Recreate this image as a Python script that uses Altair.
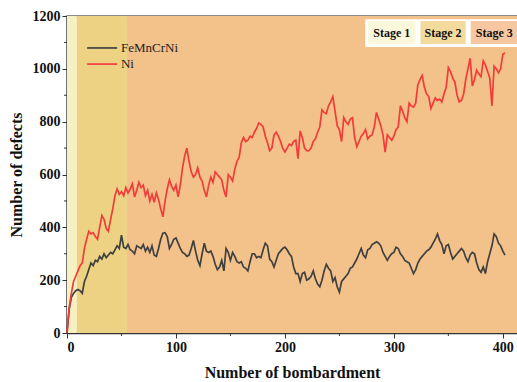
import altair as alt
import pandas as pd

step = 2
ni = [0, 95, 150, 195, 215, 235, 255, 265, 320, 355, 385, 375, 380, 365, 355, 400, 445, 430, 395, 385,
      430, 470, 520, 545, 525, 535, 520, 550, 530, 545, 565, 515, 540, 570, 550, 560, 520, 540, 500, 525,
      495, 530, 505, 470, 440, 500, 545, 580, 555, 540, 560, 515, 560, 625, 670, 700, 650, 610, 590, 600,
      625, 590, 575, 540, 515, 560, 590, 570, 610, 600, 590, 580, 540, 515, 600, 590, 575, 620, 650, 665,
      720, 740, 725, 730, 745, 740, 760, 775, 795, 790, 780, 745, 720, 690, 700, 750, 760, 745, 725, 700,
      685, 700, 715, 710, 725, 730, 660, 765, 740, 700, 690, 690, 700, 725, 735, 760, 780, 845, 835, 830,
      860, 875, 895, 840, 785, 770, 725, 815, 800, 790, 810, 815, 740, 705, 725, 745, 755, 770, 735, 745,
      750, 780, 835, 810, 785, 750, 685, 750, 740, 730, 745, 770, 780, 860, 840, 815, 800, 870, 860, 855,
      870, 940, 960, 975, 930, 905, 895, 850, 870, 890, 880, 885, 875, 905, 930, 1005, 990, 965, 950, 900,
      875, 880, 905, 960, 1000, 1040, 935, 960, 995, 980, 970, 1030, 1015, 990, 965, 860, 1010, 1000, 985, 1000,
      1055, 1060]
hea = [0, 90, 135, 150, 160, 165, 160, 150, 195, 215, 240, 265, 255, 275, 270, 290, 280, 300, 285, 295,
       305, 300, 315, 330, 320, 370, 325, 320, 335, 315, 310, 300, 330, 325, 320, 335, 310, 325, 305, 330,
       295, 290, 320, 355, 378, 380, 365, 320, 335, 355, 360, 340, 320, 305, 300, 290, 295, 320, 350, 310,
       275, 255, 300, 340, 310, 305, 310, 290, 260, 240, 250, 275, 235, 320, 305, 275, 305, 290, 270, 265,
       270, 250, 245, 235, 270, 300, 300, 285, 290, 285, 315, 340, 330, 280, 270, 250, 275, 300, 310, 320,
       325, 315, 300, 290, 250, 225, 225, 195, 225, 230, 200, 205, 215, 235, 205, 185, 175, 200, 235, 260,
       245, 235, 195, 210, 175, 155, 195, 205, 215, 225, 245, 250, 265, 280, 300, 320, 295, 285, 315, 320,
       335, 340, 345, 340, 330, 305, 290, 275, 290, 300, 305, 325, 320, 300, 290, 275, 270, 265, 245, 225,
       240, 265, 280, 290, 300, 310, 315, 325, 340, 355, 375, 350, 335, 300, 330, 335, 305, 280, 290, 300,
       310, 320, 310, 285, 270, 295, 305, 300, 265, 240, 230, 250, 225, 270, 300, 330, 375, 365, 340, 330,
       310, 295]

series_names = ["FeMnCrNi", "Ni"]
series_colors = ["#404040", "#F23B3B"]

stage_names = ["Stage 1", "Stage 2", "Stage 3"]
stage_start = [0, 9, 55]
stage_end = [9, 55, 413]
stage_colors = ["#F7F1C1", "#EDD283", "#F3C18A"]
box_colors = ["#FAF7DA", "#F3DB9E", "#F6C7A0"]
box_x1 = [276.5, 324.4, 370.5]
box_x2 = [319.8, 365.9, 413.8]

# legend key placement (data units)
leg_x1, leg_x2, leg_tx = 18.5, 46.0, 49.5
leg_y = [1079, 1018]

FONT = "Liberation Serif"

rows = []
for i, v in enumerate(hea):
    rows.append({"x": i * step, "y": v, "s": "FeMnCrNi"})
for i, v in enumerate(ni):
    rows.append({"x": i * step, "y": v, "s": "Ni"})
df = pd.DataFrame(rows)

stages = pd.DataFrame({"name": stage_names, "x1": stage_start, "x2": stage_end,
                       "c": stage_colors, "y1": [0] * 3, "y2": [1200] * 3})
boxes = pd.DataFrame({"name": stage_names, "x1": box_x1, "x2": box_x2, "c": box_colors,
                      "xm": [(a + b) / 2 for a, b in zip(box_x1, box_x2)],
                      "y1": [1094] * 3, "y2": [1181] * 3, "ym": [1136] * 3})
white = pd.DataFrame({"x1": [273.7], "x2": [414], "y1": [1083], "y2": [1188]})
legdf = pd.DataFrame({"s": series_names, "x1": [leg_x1] * 2, "x2": [leg_x2] * 2,
                      "tx": [leg_tx] * 2, "y": leg_y})
minor_y = pd.DataFrame({"v": [100, 300, 500, 700, 900, 1100]})
minor_x = pd.DataFrame({"v": [50, 150, 250, 350]})

xs = alt.Scale(domain=[0, 413], nice=False, zero=False)
ys = alt.Scale(domain=[0, 1200], nice=False)
cs = alt.Scale(domain=series_names, range=series_colors)

bg = alt.Chart(stages).mark_rect().encode(
    x=alt.X("x1:Q", scale=xs, title="Number of bombardment",
            axis=alt.Axis(values=[0, 100, 200, 300, 400], format="d", grid=False)),
    x2="x2:Q",
    y=alt.Y("y1:Q", scale=ys, title="Number of defects",
            axis=alt.Axis(values=[0, 200, 400, 600, 800, 1000, 1200], format="d", grid=False)),
    y2="y2:Q",
    color=alt.Color("c:N", scale=None),
)

lines = alt.Chart(df).mark_line(strokeWidth=1.7).encode(
    x=alt.X("x:Q", scale=xs),
    y=alt.Y("y:Q", scale=ys),
    color=alt.Color("s:N", scale=cs, legend=None),
)

legl = alt.Chart(legdf).mark_rule(strokeWidth=1.7).encode(
    x=alt.X("x1:Q", scale=xs), x2="x2:Q", y=alt.Y("y:Q", scale=ys),
    color=alt.Color("s:N", scale=cs, legend=None))
legt = alt.Chart(legdf).mark_text(font=FONT, fontSize=13, color="#222", align="left",
                                  baseline="middle").encode(
    x=alt.X("tx:Q", scale=xs), y=alt.Y("y:Q", scale=ys), text="s:N")

wbox = alt.Chart(white).mark_rect(color="white").encode(
    x=alt.X("x1:Q", scale=xs), x2="x2:Q", y=alt.Y("y1:Q", scale=ys), y2="y2:Q")
cboxes = alt.Chart(boxes).mark_rect().encode(
    x=alt.X("x1:Q", scale=xs), x2="x2:Q", y=alt.Y("y1:Q", scale=ys), y2="y2:Q",
    color=alt.Color("c:N", scale=None))
btext = alt.Chart(boxes).mark_text(font=FONT, fontWeight="bold", fontSize=12, color="#111").encode(
    x=alt.X("xm:Q", scale=xs), y=alt.Y("ym:Q", scale=ys), text="name:N")

mty = alt.Chart(minor_y).mark_rule(color="#333", strokeWidth=1).encode(
    y=alt.Y("v:Q", scale=ys), x=alt.value(-3), x2=alt.value(0))
mtx = alt.Chart(minor_x).mark_rule(color="#333", strokeWidth=1).encode(
    x=alt.X("v:Q", scale=xs), y=alt.value(317), y2=alt.value(320))

chart = alt.layer(bg, lines, legl, legt, wbox, cboxes, btext, mty, mtx).properties(
    width=450, height=317,
    autosize=alt.AutoSizeParams(type="none"),
    padding={"left": 67, "top": 16, "right": 0, "bottom": 49},
    background="white",
).configure_view(stroke="#666", strokeWidth=1.5).configure_axis(
    labelFont=FONT, labelFontSize=14, labelFontWeight="bold", labelColor="#111",
    titleFont=FONT, titleFontSize=16, titleFontWeight="bold", titleColor="#111",
    domainColor="#333", domainWidth=1.5, tickColor="#333", tickSize=5, tickWidth=1,
    labelPadding=2,
).configure_axisX(titlePadding=10).configure_axisY(titlePadding=8)

chart.save("out.html", embed_options={"renderer": "svg", "actions": False})
